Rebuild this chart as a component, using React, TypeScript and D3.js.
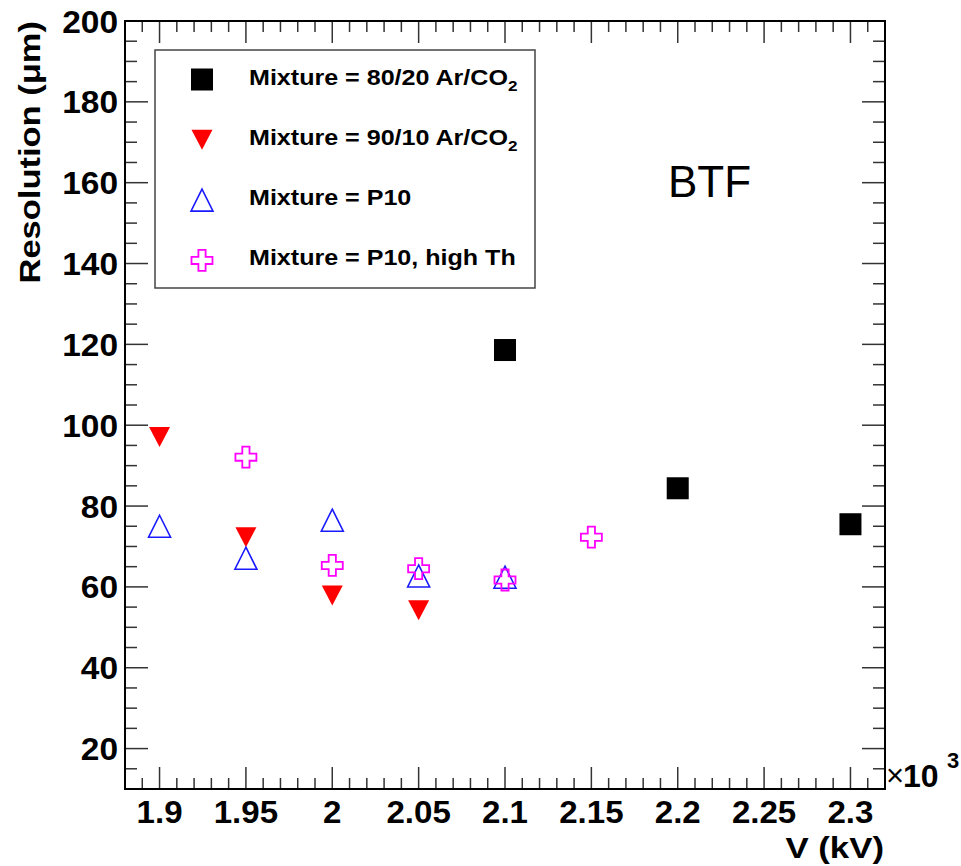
import React from "react";
import * as d3 from "d3";

// ---- data (V in volts, resolution in µm) ----
const mix8020V = [2100, 2200, 2300];
const mix8020R = [118.6, 84.4, 75.5];

const mix9010V = [1900, 1950, 2000, 2050];
const mix9010R = [97.1, 72.3, 57.9, 54.2];

const p10V = [1900, 1950, 2000, 2050, 2100];
const p10R = [75.0, 67.1, 76.5, 62.7, 62.4];

const p10HighV = [1950, 2000, 2050, 2100, 2150];
const p10HighR = [92.1, 65.3, 64.5, 61.7, 72.3];

const xMajorTicks = [1900, 1950, 2000, 2050, 2100, 2150, 2200, 2250, 2300];
const yMajorTicks = [20, 40, 60, 80, 100, 120, 140, 160, 180, 200];

const legendLabels = [
  { main: "Mixture = 80/20 Ar/CO", sub: "2" },
  { main: "Mixture = 90/10 Ar/CO", sub: "2" },
  { main: "Mixture = P10", sub: "" },
  { main: "Mixture = P10, high Th", sub: "" },
];

const FONT = "'Liberation Sans', Arial, Helvetica, sans-serif";

const W = 961;
const H = 866;
const L = 125, R = 885, T = 21, B = 789;

const x = d3.scaleLinear().domain([1880, 2320]).range([L, R]);
const y = d3.scaleLinear().domain([10, 200]).range([B, T]);

const MS = 11; // marker half size

function Square({ cx, cy }: { cx: number; cy: number }) {
  return <rect x={cx - MS} y={cy - MS} width={2 * MS} height={2 * MS} fill="#000" />;
}
function DownTri({ cx, cy }: { cx: number; cy: number }) {
  const p = d3.path();
  p.moveTo(cx - 10.5, cy - 10);
  p.lineTo(cx + 10.5, cy - 10);
  p.lineTo(cx, cy + 10);
  p.closePath();
  return <path d={p.toString()} fill="#ff0000" />;
}
function UpTri({ cx, cy }: { cx: number; cy: number }) {
  const p = d3.path();
  p.moveTo(cx, cy - 11);
  p.lineTo(cx + 11, cy + 11);
  p.lineTo(cx - 11, cy + 11);
  p.closePath();
  return <path d={p.toString()} fill="none" stroke="#1a1aff" strokeWidth={1.6} />;
}
function OpenCross({ cx, cy }: { cx: number; cy: number }) {
  const h = 10.5, a = 3.6;
  const pts: [number, number][] = [
    [-a, -h], [a, -h], [a, -a], [h, -a], [h, a], [a, a], [a, h], [-a, h], [-a, a], [-h, a], [-h, -a], [-a, -a],
  ];
  const line = d3.line<[number, number]>().x((d) => cx + d[0]).y((d) => cy + d[1]);
  return <path d={line(pts) + "Z"} fill="none" stroke="#ff00ff" strokeWidth={1.8} />;
}

const markerComps = [Square, DownTri, UpTri, OpenCross];
const seriesV = [mix8020V, mix9010V, p10V, p10HighV];
const seriesR = [mix8020R, mix9010R, p10R, p10HighR];

export default function App() {
  const xMinor = d3.range(1890, 2311, 10).filter((v) => !xMajorTicks.includes(v));
  const yMinor = d3.range(15, 200, 5).filter((v) => !yMajorTicks.includes(v));
  const tickColor = "#333";

  return (
    <svg width={W} height={H} style={{ position: "absolute", left: 0, top: 0, background: "#fff" }}>
      <rect x={0} y={0} width={W} height={H} fill="#fff" />

      {/* ticks */}
      <g stroke={tickColor} strokeWidth={1.5}>
        {xMajorTicks.map((v) => (
          <g key={"xm" + v}>
            <line x1={x(v)} x2={x(v)} y1={B} y2={B - 22} />
            <line x1={x(v)} x2={x(v)} y1={T} y2={T + 22} />
          </g>
        ))}
        {xMinor.map((v) => (
          <g key={"xn" + v}>
            <line x1={x(v)} x2={x(v)} y1={B} y2={B - 11} />
            <line x1={x(v)} x2={x(v)} y1={T} y2={T + 11} />
          </g>
        ))}
        {yMajorTicks.map((v) => (
          <g key={"ym" + v}>
            <line x1={L} x2={L + 23} y1={y(v)} y2={y(v)} />
            <line x1={R} x2={R - 23} y1={y(v)} y2={y(v)} />
          </g>
        ))}
        {yMinor.map((v) => (
          <g key={"yn" + v}>
            <line x1={L} x2={L + 12} y1={y(v)} y2={y(v)} />
            <line x1={R} x2={R - 12} y1={y(v)} y2={y(v)} />
          </g>
        ))}
      </g>

      {/* frame */}
      <rect x={L} y={T} width={R - L} height={B - T} fill="none" stroke="#000" strokeWidth={2} />

      {/* y tick labels */}
      <g fontFamily={FONT} fontWeight="bold" fontSize={31} fill="#000">
        {yMajorTicks.map((v) => (
          <text key={"yl" + v} transform={`translate(118,${y(v) + 11.5}) scale(1.08,1)`} textAnchor="end">
            {v}
          </text>
        ))}
      </g>

      {/* x tick labels */}
      <g fontFamily={FONT} fontWeight="bold" fontSize={31.5} fill="#000">
        {xMajorTicks.map((v) => (
          <text key={"xl" + v} transform={`translate(${x(v)},823) scale(1.05,1)`} textAnchor="middle">
            {d3.format("")(v / 1000)}
          </text>
        ))}
      </g>

      {/* x10^3 */}
      <g fontFamily={FONT} fill="#000">
        <text x={886} y={786} fontSize={31}>×</text>
        <text x={903} y={787} fontSize={32} fontWeight="bold">10</text>
        <text x={947} y={768} fontSize={22} fontWeight="bold">3</text>
      </g>

      {/* axis titles */}
      <text
        transform={`translate(884,858) scale(1.16,1)`}
        textAnchor="end"
        fontFamily={FONT}
        fontWeight="bold"
        fontSize={30}
      >
        V (kV)
      </text>
      <text
        transform={`translate(40,21) rotate(-90) scale(1.15,1)`}
        textAnchor="end"
        fontFamily={FONT}
        fontWeight="bold"
        fontSize={30}
      >
        Resolution (μm)
      </text>

      {/* BTF */}
      <text x={668} y={197} fontFamily={FONT} fontSize={44} fill="#000">
        BTF
      </text>

      {/* legend */}
      <rect x={155} y={50} width={380} height={238} fill="#fff" stroke="#444" strokeWidth={1.5} />
      {legendLabels.map((lab, i) => {
        const cy = 79.5 + i * 60.3;
        const M = markerComps[i];
        return (
          <g key={"lg" + i}>
            <M cx={202} cy={cy} />
            <text
              transform={`translate(249,${cy + 5}) scale(1.14,1)`}
              fontFamily={FONT}
              fontWeight="bold"
              fontSize={22}
            >
              {lab.main}
              {lab.sub ? (
                <tspan fontSize={15} dy={6}>
                  {lab.sub}
                </tspan>
              ) : null}
            </text>
          </g>
        );
      })}

      {/* data markers */}
      {seriesV.map((vs, si) => {
        const M = markerComps[si];
        return (
          <g key={"s" + si}>
            {vs.map((v, j) => (
              <M key={j} cx={x(v)} cy={y(seriesR[si][j])} />
            ))}
          </g>
        );
      })}
    </svg>
  );
}
